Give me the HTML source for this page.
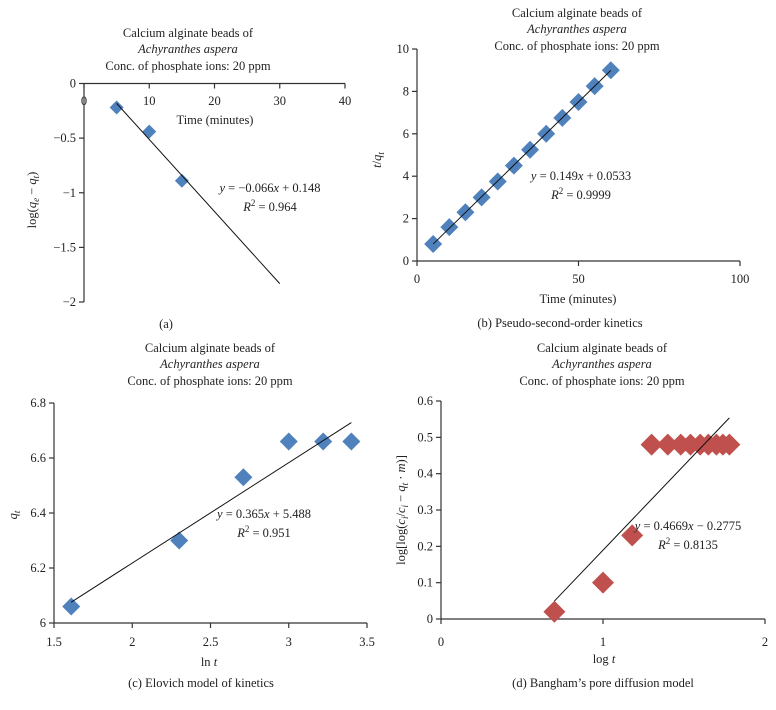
<!DOCTYPE html>
<html><head><meta charset="utf-8"><style>
html,body{margin:0;padding:0;background:#fff}
svg{display:block;font-family:"Liberation Serif",serif;}
text{fill:#222;font-size:12.5px}
</style></head><body>
<svg id="s" width="776" height="710" viewBox="0 0 776 710"></svg>
<script>
const aX=[5,10,15];
const aY=[-0.22,-0.44,-0.89];
const aFit=[-0.066,0.148];
const aFitRange=[5,30];
const aXTicks=[0,10,20,30,40];
const aYTicks=[0,-0.5,-1,-1.5,-2];
const bX=[5,10,15,20,25,30,35,40,45,50,55,60];
const bY=[0.8,1.6,2.3,3.0,3.75,4.5,5.25,6.0,6.75,7.5,8.25,9.0];
const bFit=[0.149,0.0533];
const bXTicks=[0,50,100];
const bYTicks=[0,2,4,6,8,10];
const cX=[1.61,2.30,2.71,3.00,3.22,3.40];
const cY=[6.06,6.30,6.53,6.66,6.66,6.66];
const cFit=[0.365,5.488];
const cXTicks=[1.5,2,2.5,3,3.5];
const cYTicks=[6,6.2,6.4,6.6,6.8];
const dX=[0.70,1.00,1.18,1.30,1.40,1.48,1.54,1.60,1.65,1.70,1.74,1.78];
const dY=[0.02,0.10,0.23,0.48,0.48,0.48,0.48,0.48,0.48,0.48,0.48,0.48];
const dFit=[0.4669,-0.2775];
const dXTicks=[0,1,2];
const dYTicks=[0,0.1,0.2,0.3,0.4,0.5,0.6];

const S=document.getElementById('s');
const NS='http://www.w3.org/2000/svg';
function el(t,a,p){const e=document.createElementNS(NS,t);for(const k in a)e.setAttribute(k,a[k]);(p||S).appendChild(e);return e;}
function txt(x,y,s,anchor,p,extra){const e=el('text',Object.assign({x:x,y:y,'text-anchor':anchor||'middle'},extra||{}),p);e.innerHTML=s;return e;}

function chart(o){
  const g=el('g',{});
  
  
  const sx=v=>o.px0+(v-o.x0)/(o.x1-o.x0)*(o.px1-o.px0);
  const sy=v=>o.py0+(v-o.y0)/(o.y1-o.y0)*(o.py1-o.py0);
  const tg=el('g',{},g);
  
  
  txt(o.tx,o.ty[0],'Calcium alginate beads of','middle',tg);
  txt(o.tx,o.ty[1],'Achyranthes aspera','middle',tg,{'font-style':'italic'});
  txt(o.tx,o.ty[2],'Conc. of phosphate ions: 20 ppm','middle',tg);
  const ax=el('g',{stroke:'#333','stroke-width':1.2},g);
  
  
  const yTop=Math.min(sy(o.yt[0]),sy(o.yt[o.yt.length-1]));
  const yBot=Math.max(sy(o.yt[0]),sy(o.yt[o.yt.length-1]));
  el('line',{x1:o.px0,y1:yTop,x2:o.px0,y2:yBot},ax);
  el('line',{x1:sx(o.xt[0]),y1:o.xAxisY,x2:sx(o.xt[o.xt.length-1]),y2:o.xAxisY},ax);
  o.yt.forEach(v=>{el('line',{x1:o.px0-5,y1:sy(v),x2:o.px0,y2:sy(v)},ax);
    const t=txt(o.px0-8,sy(v)+4,String(v).replace('-','\u2212'),'end',g);
    
    });
  o.xt.forEach(v=>{el('line',{x1:sx(v),y1:o.xAxisY,x2:sx(v),y2:o.xAxisY+5},ax);
    const t=txt(sx(v),o.xLabY,String(v),'middle',g);
    
    });
  const pts=el('g',{fill:o.color},g);
  
  
  const r=o.r;
  o.xs.forEach((v,i)=>{const X=sx(v),Y=sy(o.ys[i]);
    const p=el('polygon',{points:`${X},${Y-r} ${X+r},${Y} ${X},${Y+r} ${X-r},${Y}`},pts);
    
    });
  const xa=o.fr?o.fr[0]:o.xs[0],xb=o.fr?o.fr[1]:o.xs[o.xs.length-1];
  const f=el('line',{x1:sx(xa),y1:sy(o.fit[0]*xa+o.fit[1]),x2:sx(xb),y2:sy(o.fit[0]*xb+o.fit[1]),stroke:'#111','stroke-width':1},g);
  
  
  const e1=txt(o.ex,o.ey,o.eq,'middle',g);  
  const e2=txt(o.ex,o.ey+19,'<tspan font-style="italic">R</tspan><tspan dy="-5" font-size="9">2</tspan><tspan dy="5"> = '+o.r2+'</tspan>','middle',g);
   
  const xt=txt(o.xtx,o.xty,o.xtitle,'middle',g);  
  const yt=txt(0,0,o.ytitle,'middle',g,{transform:`translate(${o.ytx},${o.yty}) rotate(-90)`});  
  const cp=txt(o.cx,o.cy,o.cap,'middle',g);  
}
const blue='#4f81bd',red='#c0504d';
chart({name:'chart-a',xs:aX,ys:aY,fit:aFit,fr:aFitRange,xt:aXTicks,yt:aYTicks,x0:0,x1:40,px0:84,px1:345,y0:0,y1:-2,py0:83.5,py1:302,xAxisY:83.5,xLabY:105,color:blue,r:7,
 tx:188,ty:[37,53,70],ex:270,ey:192,eq:'<tspan font-style="italic">y</tspan> = \u22120.066<tspan font-style="italic">x</tspan> + 0.148',r2:'0.964',
 xtx:215,xty:124,xtitle:'Time (minutes)',ytx:36,yty:200,ytitle:'log(<tspan font-style="italic">q</tspan><tspan font-size="9" dy="3" font-style="italic">e</tspan><tspan dy="-3"> \u2212 </tspan><tspan font-style="italic">q</tspan><tspan font-size="9" dy="3" font-style="italic">t</tspan><tspan dy="-3">)</tspan>',cx:166,cy:328,cap:'(a)'});
chart({name:'chart-b',xs:bX,ys:bY,fit:bFit,xt:bXTicks,yt:bYTicks,x0:0,x1:100,px0:417,px1:740,y0:0,y1:10,py0:261,py1:49,xAxisY:261,xLabY:283,color:blue,r:9,
 tx:577,ty:[17,33,50],ex:581,ey:180,eq:'<tspan font-style="italic">y</tspan> = 0.149<tspan font-style="italic">x</tspan> + 0.0533',r2:'0.9999',
 xtx:578,xty:303,xtitle:'Time (minutes)',ytx:381,yty:160,ytitle:'<tspan font-style="italic">t</tspan>/<tspan font-style="italic">q</tspan><tspan font-size="9" dy="3" font-style="italic">t</tspan>',cx:560,cy:327,cap:'(b)  Pseudo-second-order kinetics'});
chart({name:'chart-c',xs:cX,ys:cY,fit:cFit,xt:cXTicks,yt:cYTicks,x0:1.5,x1:3.5,px0:54,px1:367,y0:6,y1:6.8,py0:623,py1:403,xAxisY:623,xLabY:646,color:blue,r:9,
 tx:210,ty:[352,368,385],ex:264,ey:518,eq:'<tspan font-style="italic">y</tspan> = 0.365<tspan font-style="italic">x</tspan> + 5.488',r2:'0.951',
 xtx:209,xty:666,xtitle:'ln <tspan font-style="italic">t</tspan>',ytx:17,yty:515,ytitle:'<tspan font-style="italic">q</tspan><tspan font-size="9" dy="3" font-style="italic">t</tspan>',cx:201,cy:687,cap:'(c)  Elovich model of kinetics'});
chart({name:'chart-d',xs:dX,ys:dY,fit:dFit,xt:dXTicks,yt:dYTicks,x0:0,x1:2,px0:441,px1:765,y0:0,y1:0.6,py0:619,py1:401,xAxisY:619,xLabY:646,color:red,r:11,
 tx:602,ty:[352,368,385],ex:688,ey:530,eq:'<tspan font-style="italic">y</tspan> = 0.4669<tspan font-style="italic">x</tspan> \u2212 0.2775',r2:'0.8135',
 xtx:604,xty:663,xtitle:'log <tspan font-style="italic">t</tspan>',ytx:405,yty:510,ytitle:'log[log(<tspan font-style="italic">c</tspan><tspan font-size="9" dy="3" font-style="italic">i</tspan><tspan dy="-3">/</tspan><tspan font-style="italic">c</tspan><tspan font-size="9" dy="3" font-style="italic">i</tspan><tspan dy="-3"> \u2212 </tspan><tspan font-style="italic">q</tspan><tspan font-size="9" dy="3" font-style="italic">t</tspan><tspan dy="-3"> \u00b7 </tspan><tspan font-style="italic">m</tspan>)]',cx:603,cy:687,cap:'(d)  Bangham\u2019s pore diffusion model'});
</script>
</body></html>
